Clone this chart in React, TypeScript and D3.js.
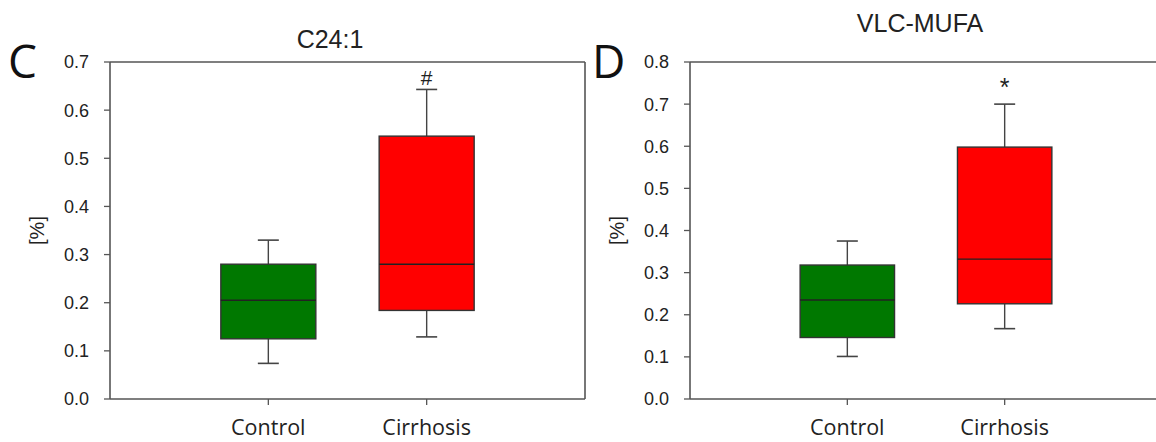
import React from "react";
import * as d3 from "d3";

const groups = ["Control", "Cirrhosis"];
// [lower whisker, Q1, median, Q3, upper whisker]
const c241Control = [0.074, 0.125, 0.205, 0.280, 0.330];
const c241Cirrhosis = [0.129, 0.184, 0.280, 0.546, 0.643];
const vlcControl = [0.101, 0.146, 0.235, 0.318, 0.375];
const vlcCirrhosis = [0.167, 0.226, 0.332, 0.598, 0.700];
const c241Ticks = [0, 0.1, 0.2, 0.3, 0.4, 0.5, 0.6, 0.7];
const vlcTicks = [0, 0.1, 0.2, 0.3, 0.4, 0.5, 0.6, 0.7, 0.8];
const titles = ["C24:1", "VLC-MUFA"];
const letters = ["C", "D"];
const marks = ["#", "*"];
const boxColors = ["#007800", "#ff0000"];

const fmt = d3.format(".1f");

type PanelProps = {
  left: number;
  right: number;
  top: number;
  bottom: number;
  ticks: number[];
  boxes: number[][];
  title: string;
  titleX: number;
  titleY: number;
  letter: string;
  letterX: number;
  mark: string;
  markOffset: number;
  markSize: number;
  showRight: boolean;
};

function Panel(p: PanelProps) {
  const y = d3
    .scaleLinear()
    .domain([0, d3.max(p.ticks) as number])
    .range([p.bottom, p.top]);
  const x = d3.scalePoint<string>().domain(groups).range([p.left, p.right]).padding(1);
  const bw = x.step() * 0.6;
  const cap = 21;
  const axisColor = "#555";
  return (
    <g>
      <text
        x={p.titleX}
        y={p.titleY}
        textAnchor="middle"
        fontFamily="Liberation Sans, Arial, sans-serif"
        fontSize={25}
        fill="#222"
      >
        {p.title}
      </text>
      <text
        x={p.letterX}
        y={78}
        fontFamily="Open Sans, sans-serif"
        fontSize={46}
        fill="#111"
      >
        {p.letter}
      </text>
      {/* frame */}
      <line x1={p.left} x2={p.right} y1={p.top} y2={p.top} stroke={axisColor} strokeWidth={1.6} />
      <line x1={p.left} x2={p.right} y1={p.bottom} y2={p.bottom} stroke={axisColor} strokeWidth={1.6} />
      <line x1={p.left} x2={p.left} y1={p.top} y2={p.bottom} stroke={axisColor} strokeWidth={1.6} />
      {p.showRight && (
        <line x1={p.right} x2={p.right} y1={p.top} y2={p.bottom} stroke={axisColor} strokeWidth={1.6} />
      )}
      {/* y ticks */}
      {p.ticks.map((t) => (
        <g key={t}>
          <line x1={p.left - 6} x2={p.left} y1={y(t)} y2={y(t)} stroke={axisColor} strokeWidth={1.3} />
          <text
            x={p.left - 21}
            y={y(t)}
            dy="0.36em"
            textAnchor="end"
            fontFamily="Liberation Sans, Arial, sans-serif"
            fontSize={18}
            fill="#222"
          >
            {fmt(t)}
          </text>
        </g>
      ))}
      <text
        transform={`translate(${p.left - 73},${(p.top + p.bottom) / 2}) rotate(-90)`}
        textAnchor="middle"
        dy="0.35em"
        fontFamily="Liberation Sans, Arial, sans-serif"
        fontSize={20}
        fill="#222"
      >
        [%]
      </text>
      {/* x ticks */}
      {groups.map((g) => (
        <g key={g}>
          <line x1={x(g)} x2={x(g)} y1={p.bottom} y2={p.bottom + 6} stroke={axisColor} strokeWidth={1.3} />
          <text
            x={x(g)}
            y={435}
            textAnchor="middle"
            fontFamily="Open Sans, sans-serif"
            fontSize={21.5}
            fill="#222"
          >
            {g}
          </text>
        </g>
      ))}
      {/* boxes */}
      {p.boxes.map((b, i) => {
        const cx = x(groups[i]) as number;
        const [lo, q1, med, q3, hi] = b;
        return (
          <g key={i}>
            <line x1={cx} x2={cx} y1={y(hi)} y2={y(q3)} stroke="#444" strokeWidth={1.4} />
            <line x1={cx} x2={cx} y1={y(q1)} y2={y(lo)} stroke="#444" strokeWidth={1.4} />
            <line x1={cx - cap / 2} x2={cx + cap / 2} y1={y(hi)} y2={y(hi)} stroke="#444" strokeWidth={1.6} />
            <line x1={cx - cap / 2} x2={cx + cap / 2} y1={y(lo)} y2={y(lo)} stroke="#444" strokeWidth={1.6} />
            <rect
              x={cx - bw / 2}
              y={y(q3)}
              width={bw}
              height={y(q1) - y(q3)}
              fill={boxColors[i]}
              stroke="#333"
              strokeWidth={1.4}
            />
            <line x1={cx - bw / 2} x2={cx + bw / 2} y1={y(med)} y2={y(med)} stroke="#222" strokeWidth={1.4} />
          </g>
        );
      })}
      <text
        x={x(groups[1])}
        y={y(p.boxes[1][4]) - p.markOffset}
        textAnchor="middle"
        fontFamily="Liberation Sans, Arial, sans-serif"
        fontSize={p.markSize}
        fill="#222"
      >
        {p.mark}
      </text>
    </g>
  );
}

export default function App() {
  return (
    <svg
      width={1156}
      height={442}
      style={{ position: "absolute", left: 0, top: 0, background: "#fff" }}
    >
      <rect width={1156} height={442} fill="#fff" />
      <Panel
        left={110}
        right={585}
        top={62}
        bottom={399}
        ticks={c241Ticks}
        boxes={[c241Control, c241Cirrhosis]}
        title={titles[0]}
        titleX={330}
        titleY={48}
        letter={letters[0]}
        letterX={8}
        mark={marks[0]}
        markOffset={4}
        markSize={21}
        showRight={true}
      />
      <Panel
        left={690}
        right={1162}
        top={62}
        bottom={399}
        ticks={vlcTicks}
        boxes={[vlcControl, vlcCirrhosis]}
        title={titles[1]}
        titleX={920}
        titleY={32}
        letter={letters[1]}
        letterX={592}
        mark={marks[1]}
        markOffset={8}
        markSize={25}
        showRight={false}
      />
    </svg>
  );
}
